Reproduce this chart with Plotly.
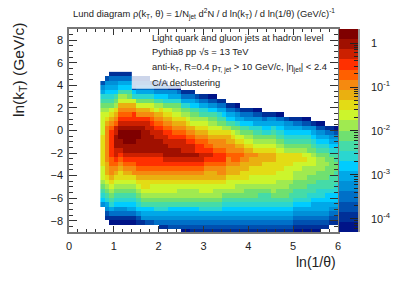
import math
import plotly.graph_objects as go

# Colour bands of the reference palette, lowest to highest
band_letters = "abcdefghijklmnopqrst"
band_colors = ["#001488", "#003098", "#0050b0", "#0070c8", "#0090d8", "#00a8e8", "#00ccff",
               "#2ad6d0", "#45dba8", "#70e070", "#a0ea50", "#ccf52c", "#e3dc15", "#eab010",
               "#f58a10", "#ff6000", "#ff3000", "#cc2000", "#a01000", "#7f0000"]
log_min = -4.3
log_max = 0.32

# ln(1/theta) bin centres, one per column
x_centres = [0.75, 0.85, 0.95, 1.05, 1.15, 1.25, 1.35, 1.45, 1.55, 1.65, 1.75, 1.85, 1.95,
             2.05, 2.15, 2.25, 2.35, 2.45, 2.55, 2.65, 2.75, 2.85, 2.95, 3.05, 3.15, 3.25,
             3.35, 3.45, 3.55, 3.65, 3.75, 3.85, 3.95, 4.05, 4.15, 4.25, 4.35, 4.45, 4.55,
             4.65, 4.75, 4.85, 4.95, 5.05, 5.15, 5.25, 5.35, 5.45, 5.55, 5.65, 5.75, 5.85, 5.95]
# ln(kT) bin centres, top to bottom
y_centres = [5.0, 4.6, 4.2, 3.8, 3.4, 3.0, 2.6, 2.2, 1.8, 1.4, 1.0, 0.6, 0.2, -0.2, -0.6, -1.0,
             -1.4, -1.8, -2.2, -2.6, -3.0, -3.4, -3.8, -4.2, -4.6, -5.0, -5.4, -5.8, -6.2,
             -6.6, -7.0, -7.4, -7.8, -8.2, -8.6, -9.0]
# Band read for each cell, one string per column; groups of six rows
columns = [
    "..cefh ijklll llmmmm mmmlll kjihge ......",
    ".cefgh ijklmn oooooo oonnnm lkjihf ecb...",
    "bdefgh ijlmno pqqqqq qppoon mlkjih fdba..",
    "bdefgi jkmnop rrsssr rqponm lkjihg edba..",
    "bdfgik lnopqr sttssr qponmm lkjihg edba..",
    "bdfgik lnopqr stttss rqponm lkjihg edba..",
    "bdfgij lnopqr stttss rqponm lkjihg fdba..",
    ".bccgh lnoqqr stttss rqpoom lkjihg fdba..",
    ".bcdfh jlnoqr sttsss rqqpon mlkjih gecb..",
    ".bcdfh jlnoqr ssssss rqqpon mmlkji gfeb..",
    ".bcdfh jlnoqr rsssss rqqpon mmlkji gfec..",
    "..bdfh jlmopq rrssss rqqpon mllkji gfec..",
    "..bceg iklnop qrrsss rqqpon mllkji hfed..",
    "..bceg ikmnop qrrsss rqqpon mllkji hfedb.",
    "..bceg hjlmno pqrrss srqpon mllkji hfedb.",
    "...bef hjlmno pqqrrs srqpon mllkji gfedc.",
    "...bef hjklmn opqrrs srqpon mllkji gfedc.",
    "...adf hjklmn opqrrs srqpon mlkkji gfedc.",
    "....bd fhjkmn opqrrr srqpon mlkkji gfedca",
    "....bd fhjklm nopqrr srqpon mlkkji gfedca",
    "....bd fgijkl nopqrr srqpon mlkkji gfedcb",
    ".....c egijkl mnopqq srqpon mlkkji gfedcb",
    ".....b dfhikl mnopqq rrqpon mllkji hfedcb",
    ".....b dfhikl mnoppq rqponn mllkji hfedcb",
    ".....a cegijk lmnopq rqponn mllkji hfedcb",
    ".....a cegijk lmnoop qqponn mlkkji hfedcb",
    "...... bdfhij lmnoop qqpoon mlkkji hfedcb",
    "...... bdfgij kmnoop qqpoon mlkjih gfedcb",
    "...... .bdfgi kmnnoo poonnm llkjih gfedcb",
    "...... .bdfgi jlmnoo pponnm llkjih gfedcb",
    "...... .acefh jklmno pponnm lkkjih gfedcb",
    "...... ..bdfg ijlmno ponnmm lkkjih gfedcb",
    "...... ..bdeg ijklmn oonnmm lkjjih gfedcb",
    "...... ..bdeg hjklmn onnmml lkjjih gfedcb",
    "...... ..acef hijklm onnmml lkjjih gfedcb",
    "...... ..acef hijklm nnnmml lkjiih gfedcb",
    "...... ...bdf ghjklm nnmmml lkjiih gfedcb",
    "...... ...bef ghjklm nnmmml lkjiih gfedcb",
    "...... ...bef hijklm nnmmml lkkjih gfedcb",
    "...... ...adf ghijkl mmmmll kkjjih gfedcb",
    "...... ...adf ghijkl mmmmll kkjjih gfedcb",
    "...... ....ce fghijk mmmlll kkjjih gfedcb",
    "...... ....be fghijk mmmlll kjjiih gfedcb",
    "...... ....bd fghijk mmllkk jjiihg fedcba",
    "...... ....bd fghijk mmllkk jjiihg fedcba",
    "...... ....ac eghijk lmlkkk jjiihg fedcba",
    "...... ....ac eghijj lllkkj jiihhg fedcba",
    "...... .....b efghij kllkkj jiihgf fedcba",
    "...... .....a cefghi jkkkjj iihhgf fedcba",
    "...... .....a cefghi jkkkjj iihhgf fedcb.",
    "...... ...... bdfghi jjkjjj iihggf fedcb.",
    "...... ...... bdefgh ijjjji iihggf edcb..",
    "...... ...... acefgh iijjii ihhggf edcb..",
]

title_text = ("Lund diagram ρ(k<sub>T</sub>, θ) = 1/N<sub>jet</sub> d<sup>2</sup>N / d ln(k<sub>T</sub>)"
              " / d ln(1/θ) (GeV/c)<sup>-1</sup>")
note_lines = ["Light quark and gluon jets at hadron level",
              "Pythia8 pp √s = 13 TeV",
              "anti-k<sub>T</sub>, R=0.4 p<sub>T, jet</sub> > 10 GeV/c, |η<sub>jet</sub>| < 2.4",
              "C/A declustering"]
note_rows = [38, 52, 67, 82]
decades = [-4, -3, -2, -1, 0]
decade_labels = ["10<sup>-4</sup>", "10<sup>-3</sup>", "10<sup>-2</sup>", "10<sup>-1</sup>", "1"]

step = (log_max - log_min) / len(band_letters)
def band_value(ch):
    return None if ch == "." else log_min + (band_letters.index(ch) + 0.5) * step

cols = [c.replace(" ", "") for c in columns]
z = [[band_value(col[r]) for col in cols] for r in range(len(y_centres))]

scale = []
for i, c in enumerate(band_colors):
    scale.append([i / len(band_colors), c])
    scale.append([(i + 1) / len(band_colors), c])

fig = go.Figure()
fig.add_trace(go.Heatmap(x=x_centres, y=y_centres, z=z, coloraxis="coloraxis", hoverongaps=False,
                         xaxis="x", yaxis="y"))
# Palette strip, drawn on its own log-density axis
palette_y = [log_min + (i + 0.5) * step for i in range(len(band_letters))]
fig.add_trace(go.Heatmap(x=[0], y=palette_y, z=[[v] for v in palette_y], coloraxis="coloraxis",
                         xaxis="x2", yaxis="y2"))

W, H = 407, 290
PX = dict(l=69, r=49, t=29, b=58)
pw = W - PX["l"] - PX["r"]
ph = H - PX["t"] - PX["b"]

def paper_x(px):
    return (px - PX["l"]) / pw

def paper_y(py):
    return (H - PX["b"] - py) / ph

font = dict(family="Liberation Sans", size=11, color="#222")
axis_common = dict(showgrid=False, zeroline=False, showline=True, linecolor="#777", linewidth=1.5,
                   mirror="ticks", ticks="inside", tickcolor="#333", tickwidth=1, tickfont=font)

minor_vals = [d + math.log10(m) for d in range(-5, 1) for m in range(2, 10)
              if log_min <= d + math.log10(m) <= log_max]

fig.update_layout(
    width=W, height=H, autosize=False, margin=dict(**PX, pad=0),
    paper_bgcolor="white", plot_bgcolor="white", showlegend=False,
    coloraxis=dict(cmin=log_min, cmax=log_max, colorscale=scale, showscale=False),
    xaxis=dict(domain=[0, paper_x(338)], range=[0, 6], tick0=0, dtick=1, ticklen=6, anchor="y",
               ticklabelstandoff=3,
               minor=dict(ticks="inside", dtick=0.2, ticklen=3, tickcolor="#333", showgrid=False),
               **axis_common),
    yaxis=dict(range=[-9, 9], tick0=0, dtick=2, ticklen=8, anchor="x", ticklabelstandoff=2,
               minor=dict(ticks="inside", dtick=0.5, ticklen=4, tickcolor="#333", showgrid=False),
               **axis_common),
    xaxis2=dict(domain=[paper_x(339), 1], range=[-0.5, 0.5], anchor="y2", showticklabels=False,
                ticks="", showgrid=False, zeroline=False, showline=False),
    yaxis2=dict(range=[log_min, log_max], anchor="x2", side="right", tickmode="array",
                tickvals=decades, ticktext=decade_labels, ticks="inside", ticklen=8, tickwidth=1,
                tickcolor="#222", tickfont=font, showgrid=False, zeroline=False, showline=True,
                linecolor="#999", linewidth=1.5, ticklabelstandoff=9,
                minor=dict(ticks="inside", tickmode="array", tickvals=minor_vals, ticklen=4,
                           tickcolor="#222", showgrid=False)),
)

fig.add_shape(type="rect", xref="x", yref="y", x0=1.4, x1=5.0, y0=3.7, y1=6.0,
              fillcolor="white", opacity=0.8, line_width=0, layer="above")

anns = [dict(text=title_text, xref="paper", yref="paper", x=paper_x(204), y=paper_y(14),
             showarrow=False, xanchor="center", yanchor="middle",
             font=dict(family="Liberation Sans", size=9.4, color="#222")),
        dict(text="ln(1/θ)", xref="paper", yref="paper", x=paper_x(338), y=paper_y(262),
             showarrow=False, xanchor="right", yanchor="middle",
             font=dict(family="Liberation Sans", size=14, color="#222")),
        dict(text="ln(k<sub>T</sub>) (GeV/c)", xref="paper", yref="paper", x=paper_x(19), y=paper_y(70),
             showarrow=False, textangle=-90, xanchor="center", yanchor="middle",
             font=dict(family="Liberation Sans", size=15.5, color="#222"))]
for line, py in zip(note_lines, note_rows):
    anns.append(dict(text=line, xref="paper", yref="paper", x=paper_x(150), y=paper_y(py),
                     showarrow=False, xanchor="left", yanchor="middle",
                     font=dict(family="Liberation Sans", size=9.4, color="#222")))
fig.update_layout(annotations=anns)

fig.write_html("out.html", config=dict(displayModeBar=False),
               post_script="document.body.style.margin='0';document.body.style.overflow='hidden';")
